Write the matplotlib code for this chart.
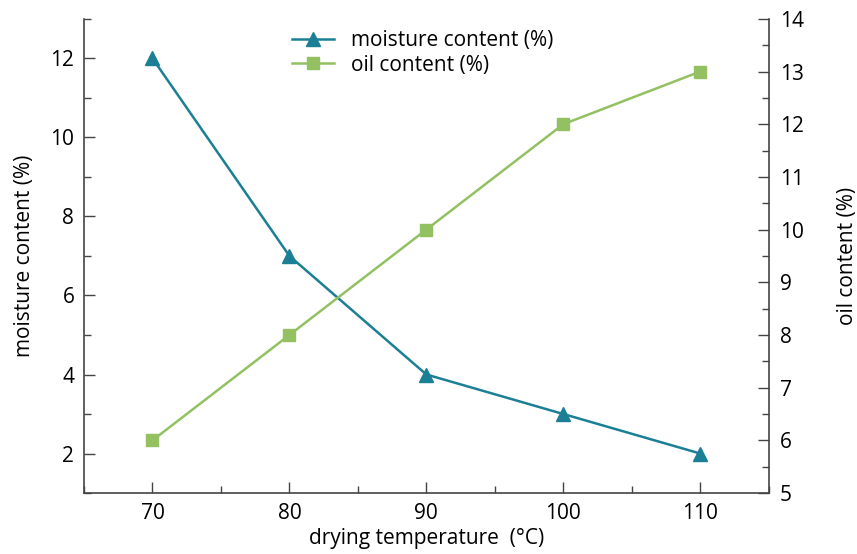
import matplotlib
matplotlib.use("Agg")
import matplotlib.pyplot as plt
from matplotlib.ticker import MultipleLocator

plt.rcParams['font.family'] = ['Open Sans', 'DejaVu Sans']

temps = [70, 80, 90, 100, 110]
moisture = [12, 7, 4, 3, 2]
oil = [6, 8, 10, 12, 13]

teal = '#1b7f95'
green = '#93c162'
axc = '#444444'

fig = plt.figure(figsize=(8.57, 5.54), dpi=100)
ax = fig.add_axes([0.098, 0.110, 0.799, 0.856])
ax2 = ax.twinx()

l1, = ax.plot(temps, moisture, color=teal, lw=1.8, marker='^', markersize=10, label='moisture content (%)')
l2, = ax2.plot(temps, oil, color=green, lw=1.8, marker='s', markersize=8, label='oil content (%)')

ax.set_xlim(65, 115)
ax.set_ylim(1, 13)
ax2.set_ylim(5, 14)
ax.xaxis.set_major_locator(MultipleLocator(10))
ax.xaxis.set_minor_locator(MultipleLocator(5))
ax.yaxis.set_major_locator(MultipleLocator(2))
ax.yaxis.set_minor_locator(MultipleLocator(1))
ax2.yaxis.set_major_locator(MultipleLocator(1))
ax2.yaxis.set_minor_locator(MultipleLocator(0.5))

for a in (ax, ax2):
    a.spines['top'].set_visible(False)
    for s in a.spines.values():
        s.set_color(axc)
        s.set_linewidth(1.2)
ax.spines['right'].set_visible(False)
ax2.spines['left'].set_visible(False)
ax2.spines['bottom'].set_visible(False)

fs = 15
ax.tick_params(axis='y', which='major', direction='in', length=8, width=1, color=axc, labelsize=fs, pad=7)
ax.tick_params(axis='x', which='major', direction='in', length=8, width=1, color=axc, labelsize=fs, pad=7)
ax.tick_params(axis='both', which='minor', direction='in', length=5, width=1, color=axc)
ax2.tick_params(axis='y', which='major', direction='in', length=8, width=1, color=axc, labelsize=fs, pad=8)
ax2.tick_params(axis='y', which='minor', direction='in', length=5, width=1, color=axc)

ax.set_xlabel('drying temperature  (°C)', fontsize=fs, labelpad=3)
ax.set_ylabel('moisture content (%)', fontsize=fs, labelpad=11)
ax2.set_ylabel('oil content (%)', fontsize=fs, labelpad=24)

ax.legend([l1, l2], [l1.get_label(), l2.get_label()], loc='upper left', bbox_to_anchor=(0.277, 1.015),
          frameon=False, fontsize=fs, handlelength=2.0, labelspacing=0.15, handletextpad=0.8)

fig.savefig('out.png', dpi=100)
